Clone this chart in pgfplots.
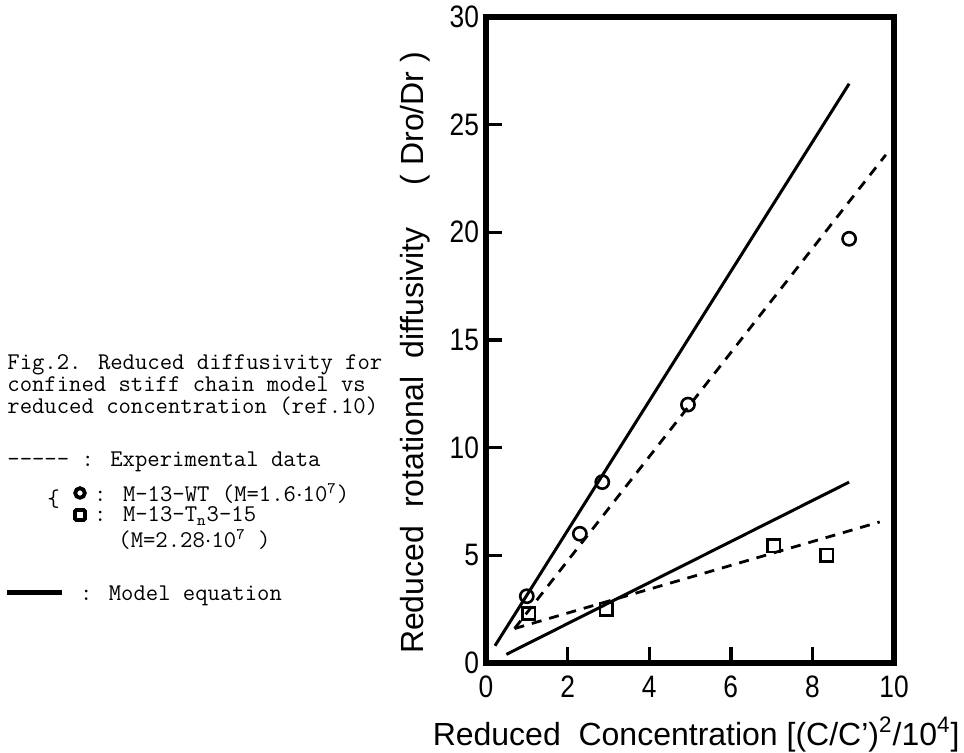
\documentclass[border=0pt]{standalone}
\usepackage{pgfplots}
\pgfplotsset{compat=1.18}
\usepackage{fontspec}
\setmainfont{Liberation Sans}
\newfontfamily\condsans[FakeStretch=0.85]{Liberation Sans}

\begin{document}
\begin{tikzpicture}
\path[use as bounding box] (0,0) rectangle (482pt,376.5pt);
\begin{axis}[
  at={(243pt,45pt)}, anchor=origin,
  width=204pt, height=323pt, scale only axis,
  xmin=0, xmax=10, ymin=0, ymax=30,
  xtick={0,2,...,10}, ytick={0,5,...,30},
  tick align=inside, xtick pos=bottom, ytick pos=left,
  major tick length=8pt,
  axis line style={line width=2.6pt},
  every tick/.style={black, line width=1.7pt},
  /pgf/number format/assume math mode=true,
  tick label style={font=\condsans\fontsize{15.5}{15.5}\selectfont},
  xticklabel style={yshift=-3pt},
  label style={font=\fontsize{16}{16}\selectfont},
  xlabel={Reduced\ \ Concentration [(C/C')\textsuperscript{2}/10\textsuperscript{4}]},
  xlabel style={at={(axis description cs:0.515,-0.111)}, anchor=center},
  ylabel={Reduced\hspace{9pt}rotational\hspace{9pt}diffusivity\hspace{21pt}( Dro/Dr )},
  ylabel style={at={(axis description cs:-0.174,0.48)}, anchor=center},
]
% model equation
\addplot[black, line width=1.5pt] coordinates {(0.22,0.8) (8.9,26.9)};
\addplot[black, line width=1.5pt] coordinates {(0.5,0.4) (8.9,8.4)};
% experimental fits
\addplot[black, line width=1.4pt, dash pattern=on 5pt off 4pt] coordinates {(0.7,1.6) (9.8,23.6)};
\addplot[black, line width=1.4pt, dash pattern=on 5pt off 4pt] coordinates {(0.7,1.6) (9.65,6.55)};
% M-13-WT
\addplot[only marks, mark=o, mark size=3.3pt, mark options={line width=1.3pt, fill=white}]
  coordinates {(1.0,3.1) (2.3,6.0) (2.85,8.4) (4.95,12.0) (8.9,19.7)};
% M-13-Tn3-15
\addplot[only marks, mark=square, mark size=3.1pt, mark options={line width=1.3pt, fill=white, rounded corners=0.8pt}]
  coordinates {(1.05,2.3) (2.95,2.5) (7.05,5.45) (8.35,5.0)};
\end{axis}

\begin{scope}[every node/.style={font=\ttfamily\fontsize{12}{14}\selectfont, anchor=base west, inner sep=0}]
\node at (3.5pt,191.5pt) {Fig.2. Reduced diffusivity for};
\node at (3.5pt,180.5pt) {confined stiff chain model vs};
\node at (3.5pt,169.5pt) {reduced concentration (ref.10)};
\node at (3.5pt,143pt) {-{}-{}-{}-{}- : Experimental data};
\node at (23.5pt,123pt) {\{};
\node[anchor=center] at (40pt,130pt) {\tikz\draw[line width=1.9pt] (0,0) circle (2.4pt);};
\node at (46.9pt,125.5pt) {: M-13-WT (M=1.6$\cdot$10\textsuperscript{7})};
\node[anchor=center] at (40pt,119pt) {\tikz\draw[line width=1.9pt, rounded corners=0.6pt] (0,0) rectangle (5pt,5pt);};
\node at (46.9pt,115.5pt) {: M-13-T\textsubscript{n}3-15};
\node at (59pt,102.5pt) {(M=2.28$\cdot$10\textsuperscript{7} )};
\node[anchor=west] at (3.5pt,80pt) {\rule{27.5pt}{2.5pt}};
\node at (39.8pt,76pt) {: Model equation};
\end{scope}
\end{tikzpicture}
\end{document}
